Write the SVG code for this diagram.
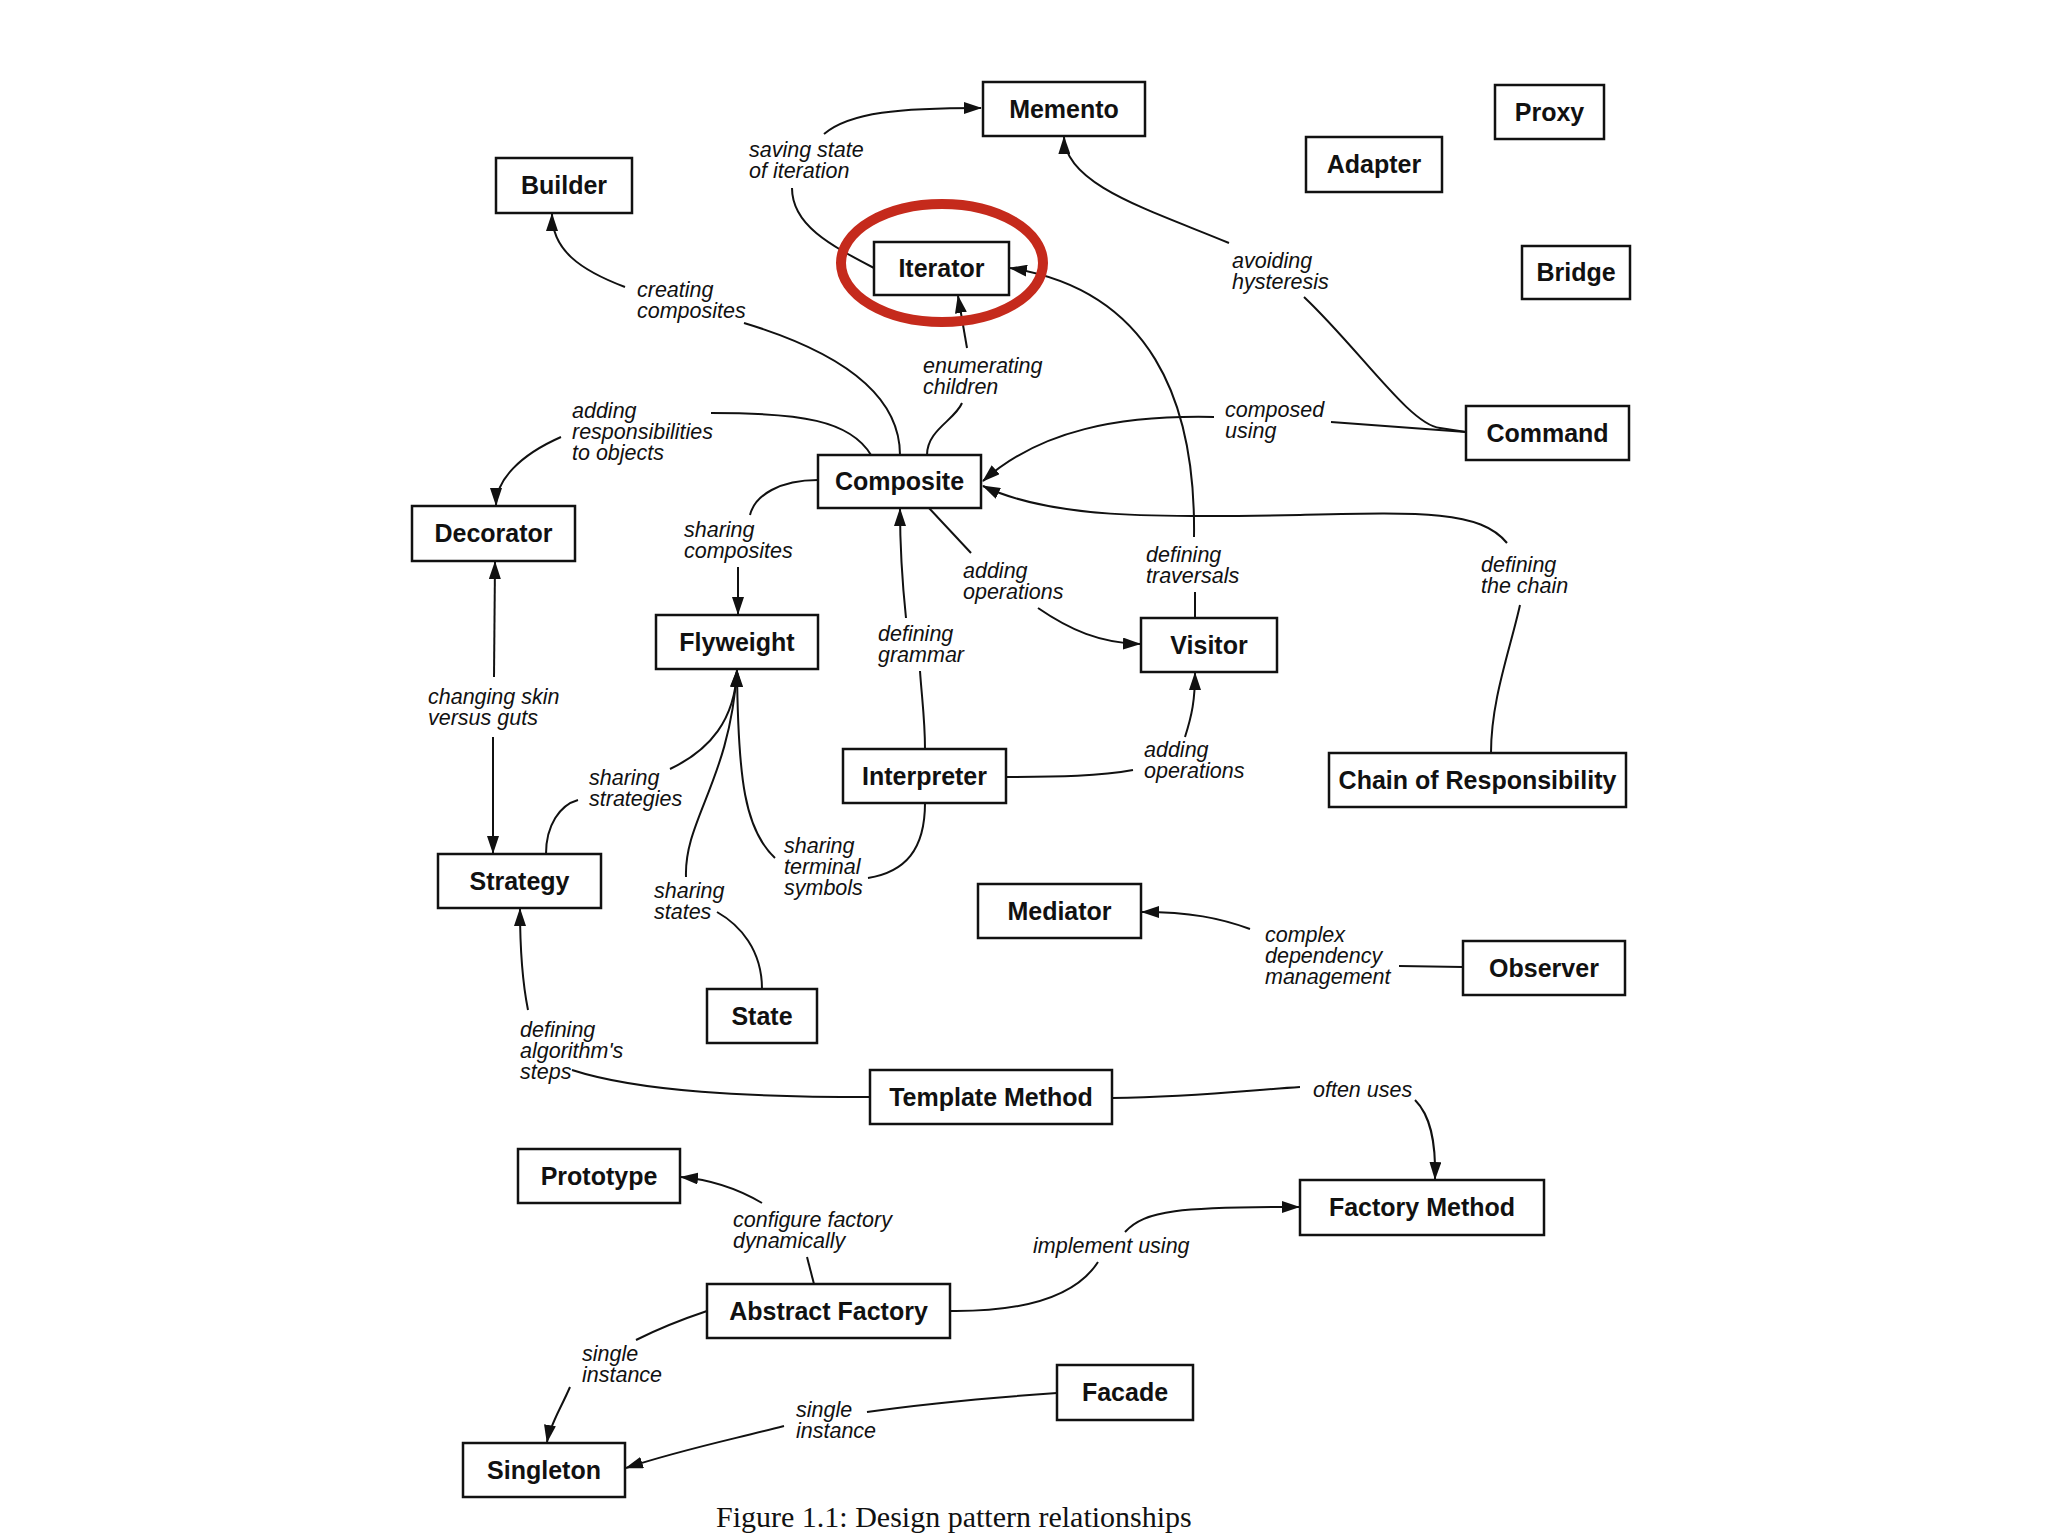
<svg xmlns="http://www.w3.org/2000/svg" width="2048" height="1536" viewBox="0 0 2048 1536">
<defs>
<marker id="arr" markerUnits="userSpaceOnUse" markerWidth="18" markerHeight="12" refX="17" refY="6" orient="auto">
<path d="M0,0 L18,6 L0,12 z" fill="#111"/>
</marker>
<style>
.box{fill:#fff;stroke:#111;stroke-width:2.5}
.nt{font-family:"Liberation Sans",Arial,sans-serif;font-weight:bold;font-size:25px;fill:#111;text-anchor:middle}
.lb{font-family:"Liberation Sans",Arial,sans-serif;font-style:italic;font-size:21.5px;fill:#111}
.ln{fill:none;stroke:#111;stroke-width:2}
.ar{marker-end:url(#arr)}
.cap{font-family:"Liberation Serif","Times New Roman",serif;font-size:30px;fill:#111}
</style>
</defs>
<rect width="2048" height="1536" fill="#fff"/>

<g id="connectors">
<path class="ln" d="M 874 268 C 830 245, 792 225, 792 188"/>
<path class="ln ar" d="M 824 134 C 850 112, 900 108, 981 108"/>
<path class="ln" d="M 900 455 C 900 400, 850 355, 744 323"/>
<path class="ln ar" d="M 625 287 C 580 270, 552 250, 552 214"/>
<path class="ln" d="M 927 455 C 927 430, 955 420, 962 403"/>
<path class="ln ar" d="M 967 348 L 958 296"/>
<path class="ln" d="M 871 455 C 850 420, 800 413, 711 413"/>
<path class="ln ar" d="M 561 437 C 520 455, 496 480, 496 505"/>
<path class="ln" d="M 818 480 C 780 480, 755 495, 750 515"/>
<path class="ln ar" d="M 738 567 L 738 614"/>
<path class="ln" d="M 929 508 L 971 553"/>
<path class="ln ar" d="M 1038 608 C 1070 630, 1100 643, 1140 644"/>
<path class="ln" d="M 925 749 C 925 720, 922 700, 920 671"/>
<path class="ln ar" d="M 906 618 C 902 580, 900 550, 900 509"/>
<path class="ln" d="M 1195 618 L 1195 592"/>
<path class="ln ar" d="M 1194 537 C 1196 400, 1150 290, 1010 268"/>
<path class="ln" d="M 1466 432 L 1331 422"/>
<path class="ln ar" d="M 1214 417 C 1120 415, 1040 430, 983 481"/>
<path class="ln" d="M 1304 297 C 1360 350, 1410 425, 1440 428 L 1466 432"/>
<path class="ln ar" d="M 1229 243 C 1150 210, 1065 185, 1064 137"/>
<path class="ln" d="M 1491 753 C 1491 700, 1510 650, 1520 605"/>
<path class="ln ar" d="M 1507 543 C 1480 510, 1420 512, 1300 515 C 1150 518, 1050 518, 983 486"/>
<path class="ln" d="M 1006 777 C 1060 777, 1100 776, 1133 770"/>
<path class="ln ar" d="M 1185 737 C 1192 715, 1195 700, 1195 673"/>
<path class="ln ar" d="M 494 677 L 495 562"/>
<path class="ln ar" d="M 493 737 L 493 853"/>
<path class="ln" d="M 546 854 C 546 825, 560 805, 578 800"/>
<path class="ln ar" d="M 670 769 C 710 750, 735 720, 737 670"/>
<path class="ln" d="M 762 989 C 762 950, 740 925, 717 912"/>
<path class="ln ar" d="M 686 877 C 684 820, 730 780, 737 670"/>
<path class="ln" d="M 925 803 C 925 850, 905 872, 868 878"/>
<path class="ln ar" d="M 775 858 C 745 830, 738 780, 737 670"/>
<path class="ln" d="M 870 1097 C 750 1097, 640 1092, 572 1070"/>
<path class="ln ar" d="M 528 1010 C 522 980, 520 950, 520 909"/>
<path class="ln" d="M 1112 1098 C 1200 1097, 1250 1090, 1300 1087"/>
<path class="ln ar" d="M 1415 1100 C 1430 1115, 1436 1140, 1435 1179"/>
<path class="ln" d="M 1463 967 L 1399 966"/>
<path class="ln ar" d="M 1250 929 C 1220 918, 1190 912, 1142 912"/>
<path class="ln" d="M 814 1284 L 807 1257"/>
<path class="ln ar" d="M 762 1203 C 740 1190, 715 1180, 681 1177"/>
<path class="ln" d="M 950 1311 C 1040 1312, 1080 1290, 1098 1262"/>
<path class="ln ar" d="M 1125 1232 C 1145 1210, 1180 1207, 1299 1207"/>
<path class="ln" d="M 707 1311 C 680 1320, 660 1328, 636 1340"/>
<path class="ln ar" d="M 570 1387 C 560 1410, 550 1425, 547 1442"/>
<path class="ln" d="M 1057 1393 C 1000 1397, 930 1403, 867 1412"/>
<path class="ln ar" d="M 784 1426 C 730 1440, 680 1450, 626 1468"/>
</g>

<g id="labels">
<text class="lb" x="749" y="157">saving state<tspan x="749" dy="21">of iteration</tspan></text>
<text class="lb" x="637" y="297">creating<tspan x="637" dy="21">composites</tspan></text>
<text class="lb" x="923" y="373">enumerating<tspan x="923" dy="21">children</tspan></text>
<text class="lb" x="572" y="418">adding<tspan x="572" dy="21">responsibilities</tspan><tspan x="572" dy="21">to objects</tspan></text>
<text class="lb" x="1232" y="268">avoiding<tspan x="1232" dy="21">hysteresis</tspan></text>
<text class="lb" x="1225" y="417">composed<tspan x="1225" dy="21">using</tspan></text>
<text class="lb" x="684" y="537">sharing<tspan x="684" dy="21">composites</tspan></text>
<text class="lb" x="963" y="578">adding<tspan x="963" dy="21">operations</tspan></text>
<text class="lb" x="878" y="641">defining<tspan x="878" dy="21">grammar</tspan></text>
<text class="lb" x="1146" y="562">defining<tspan x="1146" dy="21">traversals</tspan></text>
<text class="lb" x="1481" y="572">defining<tspan x="1481" dy="21">the chain</tspan></text>
<text class="lb" x="428" y="704">changing skin<tspan x="428" dy="21">versus guts</tspan></text>
<text class="lb" x="589" y="785">sharing<tspan x="589" dy="21">strategies</tspan></text>
<text class="lb" x="1144" y="757">adding<tspan x="1144" dy="21">operations</tspan></text>
<text class="lb" x="784" y="853">sharing<tspan x="784" dy="21">terminal</tspan><tspan x="784" dy="21">symbols</tspan></text>
<text class="lb" x="654" y="898">sharing<tspan x="654" dy="21">states</tspan></text>
<text class="lb" x="1265" y="942">complex<tspan x="1265" dy="21">dependency</tspan><tspan x="1265" dy="21">management</tspan></text>
<text class="lb" x="520" y="1037">defining<tspan x="520" dy="21">algorithm's</tspan><tspan x="520" dy="21">steps</tspan></text>
<text class="lb" x="1313" y="1097">often uses</text>
<text class="lb" x="733" y="1227">configure factory<tspan x="733" dy="21">dynamically</tspan></text>
<text class="lb" x="1033" y="1253">implement using</text>
<text class="lb" x="582" y="1361">single<tspan x="582" dy="21">instance</tspan></text>
<text class="lb" x="796" y="1417">single<tspan x="796" dy="21">instance</tspan></text>
</g>

<g id="n-memento"><rect class="box" x="983" y="82" width="162" height="54"/><text class="nt" x="1064" y="118">Memento</text></g>
<g id="n-proxy"><rect class="box" x="1495" y="85" width="109" height="54"/><text class="nt" x="1549.5" y="121">Proxy</text></g>
<g id="n-adapter"><rect class="box" x="1306" y="137" width="136" height="55"/><text class="nt" x="1374" y="173">Adapter</text></g>
<g id="n-builder"><rect class="box" x="496" y="158" width="136" height="55"/><text class="nt" x="564" y="194">Builder</text></g>
<g id="n-iterator"><rect class="box" x="874" y="242" width="135" height="53"/><text class="nt" x="941.5" y="277">Iterator</text></g>
<g id="n-bridge"><rect class="box" x="1522" y="246" width="108" height="53"/><text class="nt" x="1576" y="281">Bridge</text></g>
<g id="n-command"><rect class="box" x="1466" y="406" width="163" height="54"/><text class="nt" x="1547.5" y="442">Command</text></g>
<g id="n-composite"><rect class="box" x="818" y="455" width="163" height="53"/><text class="nt" x="899.5" y="490">Composite</text></g>
<g id="n-decorator"><rect class="box" x="412" y="506" width="163" height="55"/><text class="nt" x="493.5" y="542">Decorator</text></g>
<g id="n-flyweight"><rect class="box" x="656" y="615" width="162" height="54"/><text class="nt" x="737" y="651">Flyweight</text></g>
<g id="n-visitor"><rect class="box" x="1141" y="618" width="136" height="54"/><text class="nt" x="1209" y="654">Visitor</text></g>
<g id="n-interpreter"><rect class="box" x="843" y="749" width="163" height="54"/><text class="nt" x="924.5" y="785">Interpreter</text></g>
<g id="n-chain"><rect class="box" x="1329" y="753" width="297" height="54"/><text class="nt" x="1477.5" y="789">Chain of Responsibility</text></g>
<g id="n-strategy"><rect class="box" x="438" y="854" width="163" height="54"/><text class="nt" x="519.5" y="890">Strategy</text></g>
<g id="n-state"><rect class="box" x="707" y="989" width="110" height="54"/><text class="nt" x="762" y="1025">State</text></g>
<g id="n-mediator"><rect class="box" x="978" y="884" width="163" height="54"/><text class="nt" x="1059.5" y="920">Mediator</text></g>
<g id="n-observer"><rect class="box" x="1463" y="941" width="162" height="54"/><text class="nt" x="1544" y="977">Observer</text></g>
<g id="n-template"><rect class="box" x="870" y="1070" width="242" height="54"/><text class="nt" x="991" y="1106">Template Method</text></g>
<g id="n-prototype"><rect class="box" x="518" y="1149" width="162" height="54"/><text class="nt" x="599" y="1185">Prototype</text></g>
<g id="n-factorymethod"><rect class="box" x="1300" y="1180" width="244" height="55"/><text class="nt" x="1422" y="1216">Factory Method</text></g>
<g id="n-abstractfactory"><rect class="box" x="707" y="1284" width="243" height="54"/><text class="nt" x="828.5" y="1320">Abstract Factory</text></g>
<g id="n-singleton"><rect class="box" x="463" y="1443" width="162" height="54"/><text class="nt" x="544" y="1479">Singleton</text></g>
<g id="n-facade"><rect class="box" x="1057" y="1365" width="136" height="55"/><text class="nt" x="1125" y="1401">Facade</text></g>

<ellipse id="highlight" cx="942" cy="263" rx="101" ry="59" fill="none" stroke="#c52a1c" stroke-width="10"/>

<text class="cap" x="716" y="1527">Figure 1.1: Design pattern relationships</text>
</svg>
